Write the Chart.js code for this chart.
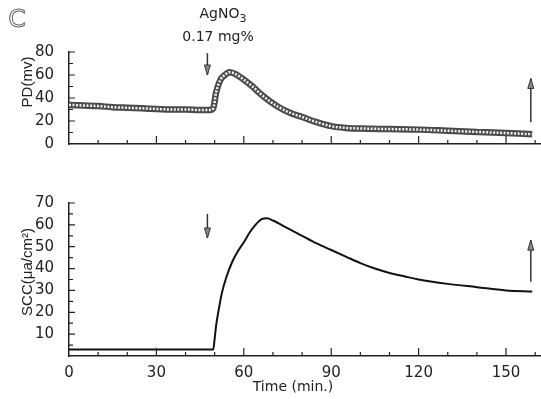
<!DOCTYPE html>
<html>
<head>
<meta charset="utf-8">
<script src="https://cdn.jsdelivr.net/npm/chart.js@4/dist/chart.umd.min.js"></script>
<style>
  html, body { margin: 0; padding: 0; background: #fff; }
  #wrap { position: relative; width: 541px; height: 399px; font-family: "DejaVu Sans", sans-serif; color: #222; overflow: hidden; }
  canvas { position: absolute; left: 0; }
  #pdChart { top: 0; }
  #sccChart { top: 165px; }
  .t { position: absolute; transform: translate(-50%, -50%); white-space: nowrap; }
  .yt { position: absolute; transform: translate(-50%, -50%) rotate(-90deg); white-space: nowrap; font-family: "Liberation Sans Narrow", "Liberation Sans", sans-serif; font-size: 15px; }
</style>
</head>
<body>
<div id="wrap">
  <canvas id="pdChart" width="541" height="165"></canvas>
  <canvas id="sccChart" width="541" height="234"></canvas>
  <div class="t" style="left:17px;top:18px;font-size:25px;color:#fff;-webkit-text-stroke:1px #666;">C</div>
  <div class="t" style="left:223px;top:15px;font-size:14px;">AgNO<sub style="font-size:11px">3</sub></div>
  <div class="t" style="left:218px;top:36px;font-size:14px;">0.17 mg%</div>
  <div class="yt" style="left:26px;top:82px;">PD(mv)</div>
  <div class="yt" style="left:26px;top:272px;">SCC(μa/cm²)</div>
  <div class="t" style="left:293px;top:386px;font-size:14px;">Time (min.)</div>
</div>
<script>
// PD trace (top panel)
const pdTime  = [0, 5, 10, 15, 20, 25, 30, 35, 40, 45, 48, 49.5, 50.5, 52, 53.5, 55, 57, 60, 63, 66, 69, 72, 76, 80, 85, 90, 95, 100, 110, 120, 130, 140, 150, 159]
const pdValue = [34, 33.5, 33, 32, 31.5, 31, 30.5, 30, 30, 29.5, 29.5, 31, 45, 56, 60, 62.5, 61, 56, 50, 43, 37, 32, 27, 23.5, 19, 15.5, 14, 13.5, 13, 12.5, 11.5, 10.5, 9.5, 8.5]

// SCC trace (bottom panel)
const sccTime  = [0, 10, 20, 30, 40, 49.5, 50, 50.5, 51.5, 52.5, 54, 56, 58, 60, 62, 64, 66, 68, 70, 75, 80, 85, 90, 95, 100, 105, 110, 115, 120, 130, 140, 150, 159]
const sccValue = [3, 3, 3, 3, 3, 3, 8, 14, 22, 29, 36, 43, 48, 52, 56.5, 60, 62.5, 63, 62, 58.5, 55, 51.5, 48.5, 45.5, 42.5, 40, 38, 36.5, 35, 33, 31.5, 30, 29.5]

// arrows: [time, from value, to value]
const pdArrows  = [[47.5, 79, 60], [158.5, 19, 57]]
const sccArrows = [[47.5, 65, 54], [158.5, 34, 53]]

const timeMax = 162
const ink = "#222"

const pdPoints = pdTime.map((t, i) => ({ x: t, y: pdValue[i] }))
const sccPoints = sccTime.map((t, i) => ({ x: t, y: sccValue[i] }))

// ticks drawn inside the frame, longer on the major steps
const innerTicks = {
  id: "innerTicks",
  afterDraw(chart, args, opts) {
    const ctx = chart.ctx
    const xs = chart.scales.x, ys = chart.scales.y
    const { left, bottom } = chart.chartArea
    ctx.save()
    ctx.strokeStyle = ink
    ctx.lineWidth = 1.2
    ctx.beginPath()
    for (let v = xs.min + opts.xMinor; v <= xs.max; v += opts.xMinor) {
      const px = xs.getPixelForValue(v)
      const len = v % opts.xMajor === 0 ? 8 : 4
      ctx.moveTo(px, bottom)
      ctx.lineTo(px, bottom - len)
    }
    for (let v = ys.min + opts.yMinor; v <= ys.max; v += opts.yMinor) {
      const py = ys.getPixelForValue(v)
      const len = v % opts.yMajor === 0 ? 6 : 4
      ctx.moveTo(left, py)
      ctx.lineTo(left + len, py)
    }
    ctx.stroke()
    ctx.restore()
  },
}

const arrows = {
  id: "arrows",
  afterDatasetsDraw(chart, args, opts) {
    const ctx = chart.ctx
    const xs = chart.scales.x, ys = chart.scales.y
    ctx.save()
    ctx.strokeStyle = "#333"
    ctx.fillStyle = "#888"
    ctx.lineWidth = 1.5
    for (const [t, from, to] of opts.list) {
      const px = xs.getPixelForValue(t)
      const y0 = ys.getPixelForValue(from)
      const y1 = ys.getPixelForValue(to)
      const dir = y1 > y0 ? 1 : -1
      ctx.beginPath()
      ctx.moveTo(px, y0)
      ctx.lineTo(px, y1)
      ctx.stroke()
      ctx.beginPath()
      ctx.moveTo(px, y1)
      ctx.lineTo(px - 3, y1 - dir * 10)
      ctx.lineTo(px + 3, y1 - dir * 10)
      ctx.closePath()
      ctx.fill()
      ctx.lineWidth = 1
      ctx.stroke()
      ctx.lineWidth = 1.5
    }
    ctx.restore()
  },
}

const tickFont = { family: "DejaVu Sans", size: 15 }

new Chart(document.getElementById("pdChart"), {
  type: "line",
  data: {
    datasets: [
      // light core on top of the dark band, like the chain of open circles
      { data: pdPoints, borderColor: "#f2f2f2", borderWidth: 2.5, borderDash: [2, 1.5], pointRadius: 0, cubicInterpolationMode: "monotone", order: 0 },
      { data: pdPoints, borderColor: "#4a4a4a", borderWidth: 6.5, pointRadius: 0, cubicInterpolationMode: "monotone", order: 1 },
    ],
  },
  options: {
    responsive: false,
    animation: false,
    layout: { padding: { top: 52, left: 0, right: 0, bottom: 21 } },
    plugins: {
      legend: { display: false },
      tooltip: { enabled: false },
      innerTicks: { xMinor: 10, xMajor: 30, yMinor: 10, yMajor: 20 },
      arrows: { list: pdArrows },
    },
    scales: {
      x: {
        type: "linear", min: 0, max: timeMax,
        ticks: { display: false },
        grid: { display: false },
        border: { color: ink, width: 1.5 },
        afterFit: s => { s.height = 0 },
      },
      y: {
        min: 0, max: 80,
        ticks: { stepSize: 20, padding: 7, color: ink, font: tickFont },
        grid: { display: false },
        border: { color: ink, width: 1.5 },
        afterFit: s => { s.width = 69 },
      },
    },
  },
  plugins: [innerTicks, arrows],
})

new Chart(document.getElementById("sccChart"), {
  type: "line",
  data: {
    datasets: [
      { data: sccPoints, borderColor: "#111", borderWidth: 2, pointRadius: 0, cubicInterpolationMode: "monotone" },
    ],
  },
  options: {
    responsive: false,
    animation: false,
    layout: { padding: { top: 38, left: 0, right: 0, bottom: 0 } },
    plugins: {
      legend: { display: false },
      tooltip: { enabled: false },
      innerTicks: { xMinor: 10, xMajor: 30, yMinor: 5, yMajor: 10 },
      arrows: { list: sccArrows },
    },
    scales: {
      x: {
        type: "linear", min: 0, max: timeMax,
        ticks: {
          stepSize: 10, autoSkip: false, maxRotation: 0, padding: 0, color: ink, font: tickFont,
          callback: v => (v % 30 === 0 ? v : ""),
        },
        grid: { display: false },
        border: { color: ink, width: 1.5 },
        afterFit: s => { s.height = 43 },
      },
      y: {
        min: 0, max: 70,
        ticks: { stepSize: 10, padding: 7, color: ink, font: tickFont, callback: v => (v === 0 ? "" : v) },
        grid: { display: false },
        border: { color: ink, width: 1.5 },
        afterFit: s => { s.width = 69 },
      },
    },
  },
  plugins: [innerTicks, arrows],
})
</script>
</body>
</html>
